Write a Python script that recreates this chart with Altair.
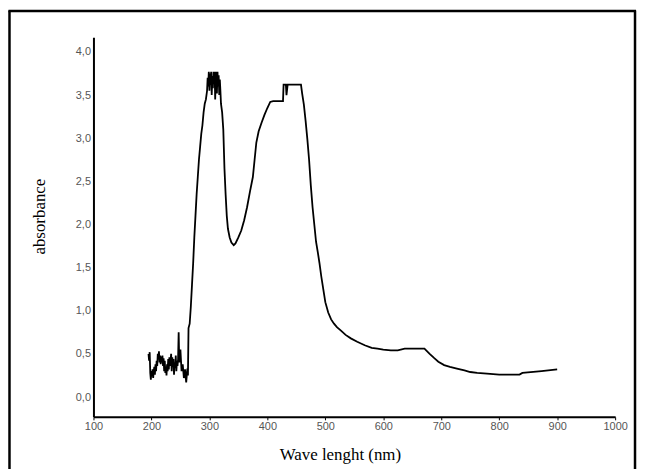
import altair as alt
import pandas as pd

# ---- data ----
wavelength = [
    195, 196, 197, 198, 199, 200, 201, 202, 203, 204, 205, 206, 207, 208, 209, 210,
    211, 212, 213, 214, 215, 216, 217, 218, 219, 220, 221, 222, 223, 224, 225, 226,
    227, 228, 229, 230, 231, 232, 233, 234, 235, 236, 237, 238, 239, 240, 241, 242,
    243, 244, 245, 246, 247, 248, 250, 252, 254, 256, 258, 260, 262, 263,
    264, 266, 268, 270, 272, 274, 276, 278, 280, 282, 284, 286, 288, 290, 292, 294,
    296, 297, 298, 299, 300, 301, 302, 303, 304, 305, 306, 307, 308, 309, 310, 311,
    312, 313, 314, 315, 316, 317, 318, 319, 320,
    322, 324, 326, 328, 330, 332, 335, 338, 342, 345, 350, 355, 360, 365, 370, 375,
    378, 381, 385, 390, 395, 400, 405, 410, 420, 427, 428, 432, 433, 435, 445, 458,
    460, 463, 466, 469, 472, 475, 478, 481, 484, 487, 490, 493, 496, 500, 505, 510,
    515, 520, 527, 535, 544, 555, 568, 580, 590, 600, 613, 625, 637, 650, 660, 671,
    680, 688, 695, 705, 715, 727, 740, 750, 762, 779, 800, 835, 840, 873, 900,
]
absorbance = [
    0.50, 0.42, 0.52, 0.28, 0.20, 0.30, 0.24, 0.32, 0.22, 0.30, 0.35, 0.26, 0.38, 0.30, 0.42, 0.36,
    0.50, 0.44, 0.53, 0.40, 0.48, 0.38, 0.47, 0.40, 0.48, 0.36, 0.45, 0.30, 0.42, 0.28, 0.35, 0.25,
    0.38, 0.30, 0.44, 0.32, 0.46, 0.36, 0.42, 0.50, 0.30, 0.46, 0.38, 0.44, 0.26, 0.40, 0.34, 0.48,
    0.30, 0.42, 0.36, 0.44, 0.75, 0.40, 0.55, 0.30, 0.38, 0.22, 0.32, 0.17, 0.33, 0.25,
    0.80, 0.85, 1.05, 1.30, 1.55, 1.85, 2.10, 2.35, 2.55, 2.75, 2.90, 3.05, 3.15, 3.30, 3.40, 3.45,
    3.55, 3.70, 3.60, 3.77, 3.55, 3.75, 3.62, 3.77, 3.50, 3.72, 3.58, 3.77, 3.65, 3.77, 3.45, 3.70,
    3.77, 3.52, 3.77, 3.60, 3.73, 3.50, 3.68, 3.55, 3.40,
    3.30, 3.10, 2.65, 2.35, 2.10, 1.95, 1.85, 1.79, 1.76, 1.78, 1.85, 1.93, 2.05, 2.20, 2.38, 2.55,
    2.75, 2.95, 3.08, 3.18, 3.27, 3.35, 3.42, 3.43, 3.43, 3.43, 3.62, 3.62, 3.50, 3.62, 3.62, 3.62,
    3.52, 3.39, 3.20, 2.99, 2.75, 2.45, 2.20, 2.00, 1.80, 1.68, 1.55, 1.40, 1.27, 1.10, 0.98, 0.90,
    0.85, 0.81, 0.77, 0.72, 0.68, 0.64, 0.60, 0.57, 0.56, 0.55, 0.54, 0.54, 0.56, 0.56, 0.56, 0.56,
    0.50, 0.45, 0.41, 0.37, 0.35, 0.33, 0.31, 0.29, 0.28, 0.27, 0.26, 0.26, 0.28, 0.30, 0.32,
]
x_ticks = [100, 200, 300, 400, 500, 600, 700, 800, 900, 1000]
y_ticks = [0.0, 0.5, 1.0, 1.5, 2.0, 2.5, 3.0, 3.5, 4.0]
x_title = "Wave lenght (nm)"
y_title = "absorbance"

df = pd.DataFrame({"wavelength": wavelength, "absorbance": absorbance})

W, H = 525, 382
PL, PT, PR, PB = 86, 28, 22, 51

line = alt.Chart(df).mark_line(color="black", strokeWidth=1.8).encode(
    x=alt.X(
        "wavelength:Q",
        scale=alt.Scale(domain=[100, 1000], nice=False, zero=False),
        axis=alt.Axis(
            values=x_ticks, title=x_title, grid=False, format="d",
            domainColor="black", domainWidth=2,
            tickSize=3, tickColor="black", tickWidth=1,
            labelFont="Liberation Sans", labelFontSize=11, labelColor="#555555",
            labelPadding=1, labelFlush=False,
            titleFont="Liberation Serif", titleFontSize=17, titleFontWeight="normal",
            titleColor="black", titleX=248, titleY=38, titleBaseline="middle",
        ),
    ),
    y=alt.Y(
        "absorbance:Q",
        scale=alt.Scale(domain=[-0.23, 4.17], nice=False, zero=False),
        axis=alt.Axis(
            values=y_ticks, title=y_title, grid=False,
            domainColor="black", domainWidth=2, ticks=False,
            labelExpr="replace(format(datum.value, '.1f'), '.', ',')",
            labelFont="Liberation Sans", labelFontSize=11, labelColor="#555555",
            labelPadding=3,
            titleFont="Liberation Serif", titleFontSize=17, titleFontWeight="normal",
            titleColor="black", titleX=-54, titleY=180, titleBaseline="middle",
            titleAngle=270,
        ),
    ),
)

frame_src = alt.Data(values=[{"k": 1}])
left = alt.Chart(frame_src).mark_rule(color="black", strokeWidth=2.5).encode(
    x=alt.value(-PL + 1.5), y=alt.value(-PT + 1), y2=alt.value(H + PB + 20)
)
right = alt.Chart(frame_src).mark_rule(color="black", strokeWidth=2.5).encode(
    x=alt.value(631 - PL), y=alt.value(-PT + 1), y2=alt.value(H + PB + 20)
)
top = alt.Chart(frame_src).mark_rule(color="black", strokeWidth=2.5).encode(
    x=alt.value(-PL + 0.5), x2=alt.value(631 - PL + 1), y=alt.value(-PT + 1.5)
)

chart = alt.layer(line, left, right, top).properties(
    width=W, height=H,
    autosize=alt.AutoSizeParams(type="none"),
    padding={"left": PL, "top": PT, "right": PR, "bottom": PB},
    view=alt.ViewBackground(stroke="transparent", strokeWidth=0),
).configure_view(stroke="transparent", strokeWidth=0).configure(background="white")

chart.save("out.html", embed_options={"renderer": "svg", "actions": False})
